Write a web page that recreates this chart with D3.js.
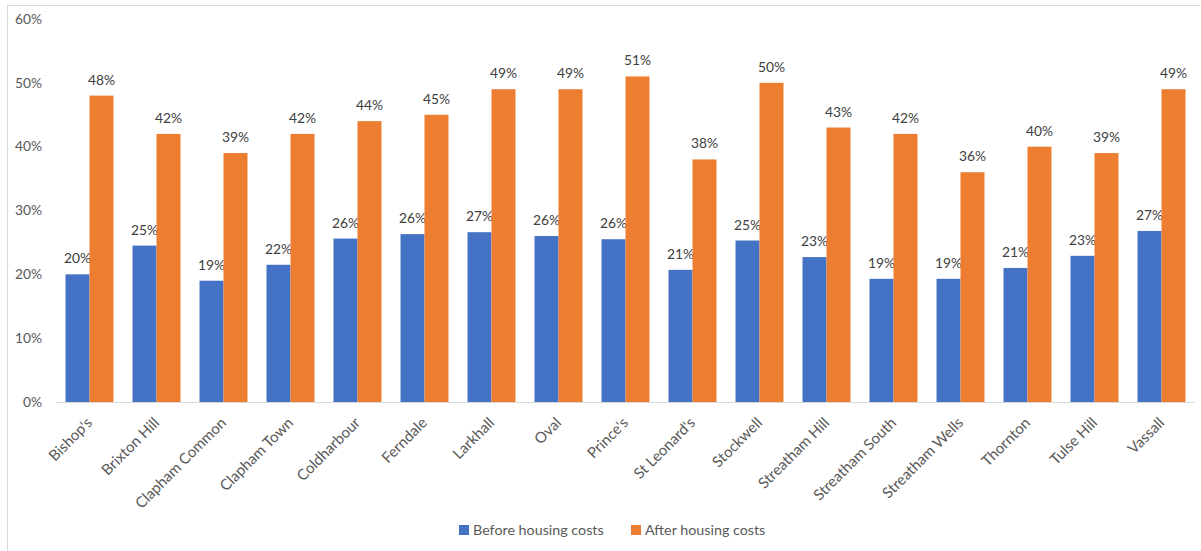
<!DOCTYPE html>
<html><head><meta charset="utf-8">
<script src="https://cdn.jsdelivr.net/npm/d3@7"></script>
<style>body{margin:0;background:#fff}svg{display:block}text{font-family:Lato,"Open Sans",sans-serif}</style>
</head><body><svg id="c" width="1201" height="551"></svg>
<script>
const categories = ["Bishop's","Brixton Hill","Clapham Common","Clapham Town","Coldharbour","Ferndale","Larkhall","Oval","Prince's","St Leonard's","Stockwell","Streatham Hill","Streatham South","Streatham Wells","Thornton","Tulse Hill","Vassall"];
const beforeHousing = [20.0,24.5,19.0,21.5,25.6,26.3,26.6,26.0,25.5,20.7,25.3,22.7,19.3,19.3,21.0,22.9,26.8];
const afterHousing = [48,42,39,42,44,45,49,49,51,38,50,43,42,36,40,39,49];
const seriesNames = ["Before housing costs","After housing costs"];
const yTicks = [0,10,20,30,40,50,60];
const colors = ["#4472C4","#ED7D31"];

const svg = d3.select("#c");
svg.append("rect").attr("x",7.5).attr("y",5.5).attr("width",1210).attr("height",560).attr("fill","none").attr("stroke","#d9d9d9");

const x = d3.scaleBand().domain(categories).range([56,1195]).paddingInner(0.284).paddingOuter(0.142);
const xs = d3.scaleBand().domain([0,1]).range([0,x.bandwidth()]);
const y = d3.scaleLinear().domain([0,60]).range([402,19]);

// y tick labels
svg.append("g").selectAll("text").data(yTicks).join("text")
  .attr("x",42).attr("y",d=>y(d)).attr("dy","0.35em").attr("text-anchor","end")
  .attr("font-size",13.8).attr("fill","#595959").text(d=>d+"%");

const series = [beforeHousing, afterHousing];
series.forEach((vals,si)=>{
  const g = svg.append("g");
  g.selectAll("rect").data(vals).join("rect")
    .attr("x",(d,i)=>x(categories[i])+xs(si)).attr("width",xs.bandwidth())
    .attr("y",d=>y(d)).attr("height",d=>y(0)-y(d)).attr("fill",colors[si]);
  g.selectAll("text").data(vals).join("text")
    .attr("x",(d,i)=>x(categories[i])+xs(si)+xs.bandwidth()/2).attr("y",d=>y(d)-11)
    .attr("text-anchor","middle").attr("font-size",13.8).attr("fill","#404040")
    .text(d=>Math.round(d)+"%");
});

// x axis line
svg.append("line").attr("x1",56).attr("x2",1195).attr("y1",y(0)+0.5).attr("y2",y(0)+0.5).attr("stroke","#d9d9d9");

// x labels
svg.append("g").selectAll("text").data(categories).join("text")
  .attr("transform",d=>`translate(${x(d)+x.bandwidth()/2},${y(0)+18}) rotate(-45)`)
  .attr("text-anchor","end").attr("dy","0.35em").attr("font-size",15).attr("fill","#595959").text(d=>d);

// legend
const lg = svg.append("g");
const lx = [459,631];
seriesNames.forEach((n,i)=>{
  lg.append("rect").attr("x",lx[i]).attr("y",525).attr("width",10).attr("height",10).attr("fill",colors[i]);
  lg.append("text").attr("x",lx[i]+14).attr("y",530).attr("dy","0.35em").attr("font-size",14.3).attr("fill","#595959").text(n);
});
</script></body></html>
